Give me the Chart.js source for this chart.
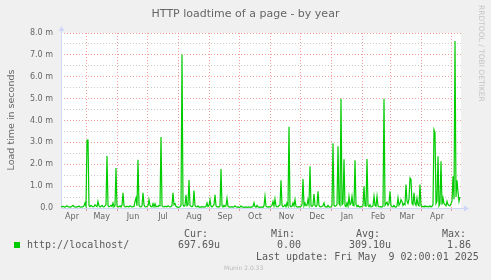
<!DOCTYPE html>
<html><head><meta charset="utf-8">
<script src="https://cdn.jsdelivr.net/npm/chart.js@4.4.1/dist/chart.umd.min.js"></script>
<style>
html,body{margin:0;padding:0;background:#F0F0F0;}
#wrap{position:relative;width:491px;height:280px;overflow:hidden;font-family:'DejaVu Sans',sans-serif;color:#666;}
canvas{position:absolute;left:0;top:0;}
.t{position:absolute;white-space:pre;line-height:10px;}
.m{font-family:'DejaVu Sans Mono',monospace;font-size:10px;color:#5a5a5a;}
</style></head><body>
<div id="wrap">
<canvas id="c" width="491" height="280"></canvas>
<div class="t" style="left:0;width:491px;text-align:center;top:8px;font-size:11px;line-height:12px">HTTP loadtime of a page - by year</div>
<div class="t" style="left:-89px;width:200px;text-align:center;top:114px;font-size:9.5px;line-height:12px;transform:rotate(-90deg)">Load time in seconds</div>
<div class="t" style="left:477px;top:5px;font-size:7.5px;line-height:8px;color:#c4c4c4;writing-mode:vertical-rl">RRDTOOL / TOBI OETIKER</div>
<div style="position:absolute;left:14px;top:242px;width:6px;height:6px;background:#00CC00"></div>
<div class="t m" style="left:184px;top:229px">Cur:</div>
<div class="t m" style="left:271px;top:229px">Min:</div>
<div class="t m" style="left:356px;top:229px">Avg:</div>
<div class="t m" style="left:442px;top:229px">Max:</div>
<div class="t m" style="left:27px;top:240px">http://localhost/</div>
<div class="t m" style="left:178px;top:240px">697.69u</div>
<div class="t m" style="left:277px;top:240px">0.00</div>
<div class="t m" style="left:349px;top:240px">309.10u</div>
<div class="t m" style="left:447px;top:240px">1.86</div>
<div class="t m" style="left:256px;top:252px">Last update: Fri May  9 02:00:01 2025</div>
<div class="t" style="left:224px;top:265px;font-size:6px;line-height:6px;color:#bbb">Munin 2.0.33</div>
</div>
<script>
// day index 0 = first day on the time axis (early April 2024), one value per day (milliseconds)
const loadtime = [
0.06,0.05,0.08,0.05,0.04,0.07,0.1,0.06,0.05,0.04,0.05,0.08,0.12,0.06,0.05,0.04,0.05,0.06,0.09,0.05,
0.04,0.05,0.06,0.1,0.23,0.08,3.1,3.1,0.1,0.06,0.12,0.08,0.05,0.07,0.15,0.1,0.06,0.3,0.1,0.05,
0.08,0.12,0.06,0.05,0.1,0.15,2.38,0.1,0.06,0.08,0.12,0.07,0.23,0.05,0.1,1.83,0.08,0.05,0.06,0.1,
0.05,0.12,0.69,0.1,0.06,0.05,0.08,0.06,0.05,0.1,0.07,0.05,0.06,0.08,0.3,0.46,0.1,2.2,0.12,0.06,
0.05,0.1,0.69,0.15,0.06,0.05,0.08,0.1,0.38,0.12,0.06,0.05,0.2,0.06,0.2,0.05,0.08,0.06,0.12,0.1,
3.25,0.1,0.06,0.05,0.08,0.06,0.05,0.1,0.07,0.05,0.06,0.12,0.69,0.15,0.2,0.08,0.05,0.03,0.04,0.06,
0.1,7.02,0.15,0.08,0.12,0.6,0.1,0.15,1.28,0.12,0.08,0.06,0.1,0.8,0.1,0.06,0.05,0.1,0.04,0.05,
0.04,0.06,0.05,0.04,0.05,0.08,0.23,0.06,0.1,0.38,0.08,0.05,0.1,0.15,0.6,0.1,0.05,0.06,0.04,0.1,
1.78,0.1,0.05,0.12,0.06,0.1,0.43,0.08,0.05,0.04,0.05,0.06,0.04,0.05,0.1,0.06,0.04,0.05,0.03,0.04,
0.1,0.05,0.04,0.03,0.04,0.05,0.03,0.04,0.05,0.04,0.03,0.05,0.08,0.24,0.06,0.04,0.12,0.05,0.04,0.03,
0.04,0.05,0.03,0.1,0.53,0.08,0.05,0.04,0.06,0.05,0.08,0.12,0.3,0.1,0.41,0.08,0.05,0.06,0.1,0.15,
1.27,0.12,0.06,0.08,0.15,0.06,0.23,0.1,3.71,0.1,0.06,0.08,0.23,0.1,0.38,0.08,0.05,0.04,0.06,0.05,
0.08,0.15,1.33,0.1,0.23,0.1,0.12,0.38,0.15,1.91,0.1,0.08,0.12,0.64,0.1,0.06,0.12,0.76,0.1,0.06,
0.05,0.08,0.1,0.23,0.06,0.05,0.04,0.12,0.05,0.04,0.06,0.1,2.96,0.12,0.08,0.1,0.15,2.82,0.2,0.12,
4.99,0.15,0.2,2.23,0.1,0.06,0.23,0.08,0.53,0.15,0.2,0.53,0.12,0.1,2.18,0.15,0.06,0.12,0.05,0.06,
0.05,0.08,0.1,0.99,0.1,0.08,2.24,0.12,0.06,0.15,0.05,0.06,0.1,0.53,0.12,0.08,0.53,0.1,0.06,0.05,
0.06,0.04,0.08,4.99,0.12,0.2,0.27,0.12,0.2,0.76,0.1,0.06,0.05,0.12,0.05,0.04,0.1,0.46,0.12,0.2,
0.38,0.3,0.12,0.2,0.15,1.07,0.3,0.2,0.4,1.37,1.3,0.2,0.15,0.69,0.2,0.12,0.46,0.15,0.1,1.07,
0.1,0.06,0.08,0.05,0.1,0.06,0.08,0.05,0.06,0.1,0.05,0.08,0.15,3.57,3.43,0.2,0.3,2.37,0.1,0.2,
2.14,0.15,0.46,0.2,0.15,0.1,0.3,0.15,0.12,0.1,0.2,0.3,1.45,0.4,7.63,0.5,1.27,0.73,0.3,0.5
];
const monthStarts = [25,56,86,117,148,178,209,239,270,301,329,360,390];
const monthCenters = [11,40.7,72,102,133,164,194,225.5,256,286,317,346,376];
const monthLabels = ['Apr','May','Jun','Jul','Aug','Sep','Oct','Nov','Dec','Jan','Feb','Mar','Apr'];
const yMax = 8;

const RED = 'rgba(230,80,80,0.55)';
const GRAY = 'rgba(140,140,140,0.45)';
const AXIS = '#CFD6F8';

const frame = {
  id: 'frame',
  beforeDraw(chart) {
    const {ctx, chartArea: a} = chart;
    ctx.save();
    ctx.fillStyle = '#FFFFFF';
    ctx.fillRect(a.left, a.top, a.right - a.left, a.bottom - a.top);
    ctx.restore();
  },
  beforeDatasetsDraw(chart) {
    const {ctx, chartArea: a} = chart;
    const x0 = Math.round(a.left) + 0.5, y0 = Math.round(a.bottom) + 0.5;
    ctx.save();
    ctx.strokeStyle = AXIS; ctx.fillStyle = AXIS; ctx.lineWidth = 1;
    ctx.beginPath();
    ctx.moveTo(x0, y0); ctx.lineTo(x0, a.top - 3);
    ctx.moveTo(x0, y0); ctx.lineTo(a.right + 4, y0);
    ctx.stroke();
    ctx.beginPath();
    ctx.moveTo(x0, a.top - 7); ctx.lineTo(x0 - 3, a.top - 2); ctx.lineTo(x0 + 3, a.top - 2); ctx.closePath();
    ctx.fill();
    ctx.beginPath();
    ctx.moveTo(a.right + 8, y0); ctx.lineTo(a.right + 3, y0 - 3); ctx.lineTo(a.right + 3, y0 + 3); ctx.closePath();
    ctx.fill();
    ctx.restore();
  }
};

Chart.defaults.font.family = "'DejaVu Sans', sans-serif";
Chart.defaults.color = '#666';

new Chart(document.getElementById('c'), {
  type: 'line',
  data: {
    datasets: [{
      data: loadtime.map((v, i) => ({x: i, y: v})),
      borderColor: '#00CC00',
      borderWidth: 1.2,
      pointRadius: 0,
      tension: 0,
      fill: false
    }]
  },
  options: {
    responsive: false,
    animation: false,
    devicePixelRatio: 1,
    layout: {padding: {left: 0, top: 33, right: 30, bottom: 0}},
    plugins: {legend: {display: false}, tooltip: {enabled: false}, title: {display: false}},
    scales: {
      x: {
        type: 'linear', min: 0, max: 400,
        afterFit(s) { s.height = 72; },
        afterBuildTicks(s) {
          s.ticks = monthStarts.map(v => ({value: v}))
            .concat(monthCenters.map(v => ({value: v})))
            .sort((a, b) => a.value - b.value);
        },
        ticks: {
          autoSkip: false, maxRotation: 0, minRotation: 0, padding: 1,
          font: {size: 8}, color: '#666',
          callback(v) { const k = monthCenters.indexOf(v); return k >= 0 ? monthLabels[k] : ''; }
        },
        grid: {
          color: c => (c.tick && monthStarts.includes(c.tick.value)) ? RED : 'rgba(0,0,0,0)',
          tickColor: c => (c.tick && monthStarts.includes(c.tick.value)) ? RED : 'rgba(0,0,0,0)',
          tickLength: 3, lineWidth: 1
        },
        border: {display: false, dash: [1, 2]}
      },
      y: {
        min: 0, max: yMax,
        afterFit(s) { s.width = 61; },
        ticks: {
          stepSize: 0.5, autoSkip: false, padding: 8, font: {size: 8}, color: '#666',
          callback(v) { if (v === 0) return '0.0'; return (v % 1 === 0) ? v.toFixed(1) + ' m' : ''; }
        },
        grid: {
          drawTicks: false,
          color: c => (!c.tick || c.tick.value === 0) ? 'rgba(0,0,0,0)' : (c.tick.value % 1 === 0 ? RED : GRAY),
          lineWidth: 1
        },
        border: {display: false, dash: [1, 2]}
      }
    }
  },
  plugins: [frame]
});
</script>
</body></html>
